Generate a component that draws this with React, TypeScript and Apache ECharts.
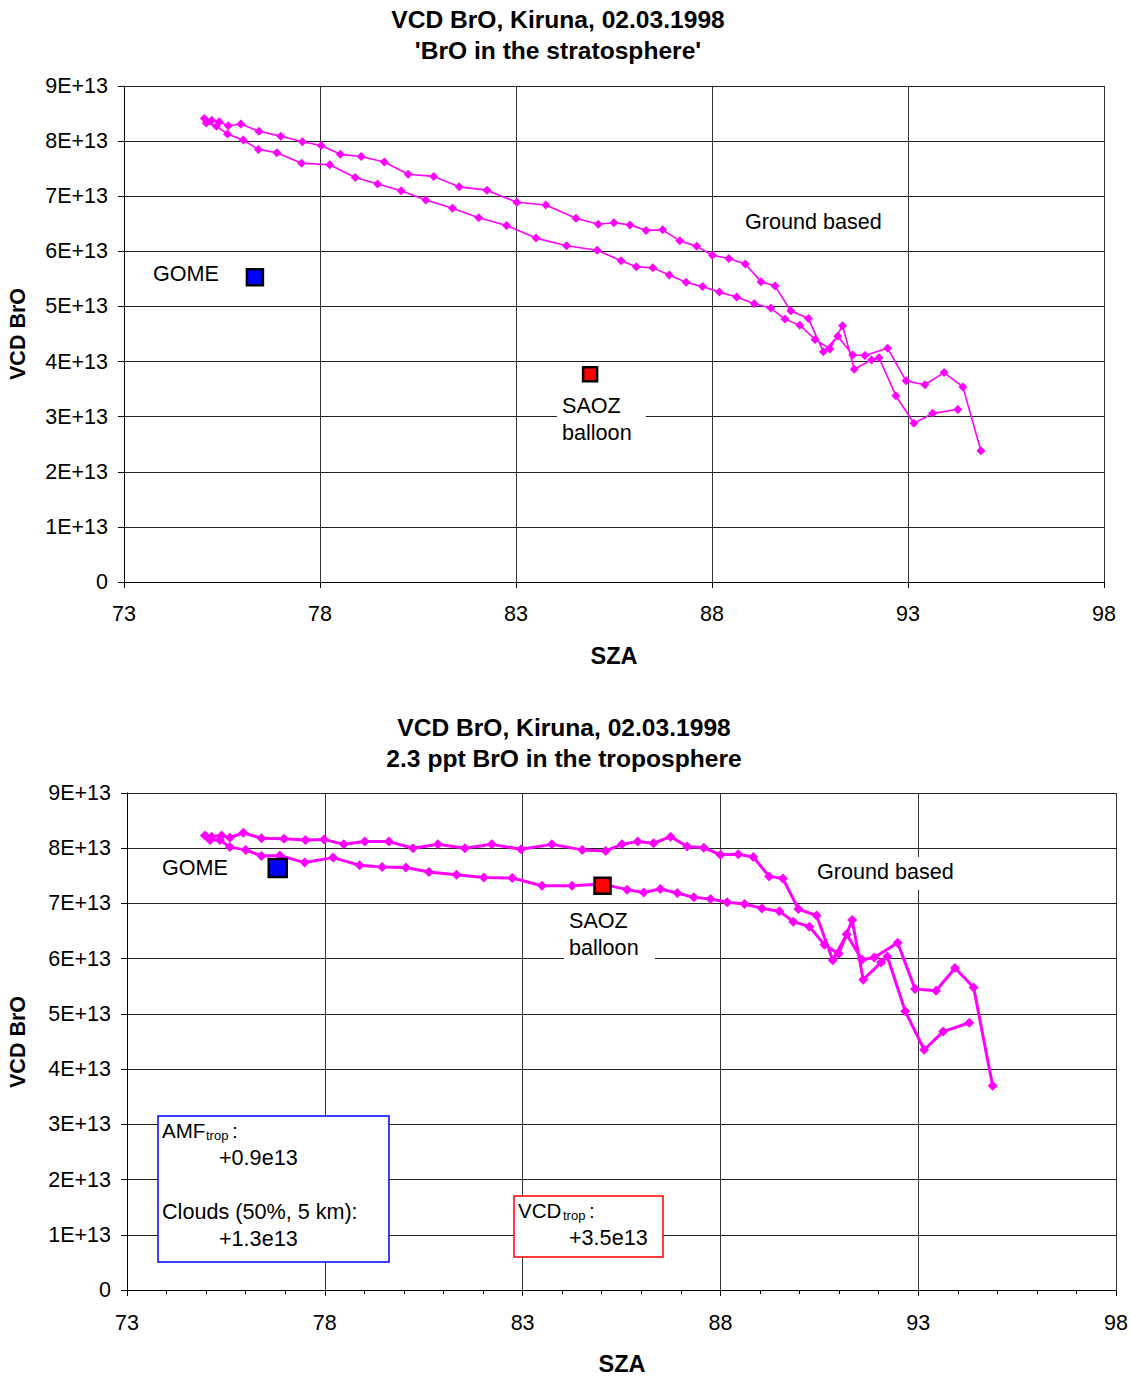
import React, { useEffect, useRef } from "react";
import * as echarts from "echarts";

// ---------- Data (VCD in units of 1E+13) ----------
const xTicks = [73, 78, 83, 88, 93, 98];
const yTicks = [0, 1, 2, 3, 4, 5, 6, 7, 8, 9];

// Top panel: 'BrO in the stratosphere'
const topSzaA = [75.05, 75.24, 75.43, 75.66, 75.98, 76.44, 77.0, 77.55, 78.03, 78.52, 79.05, 79.64, 80.25, 80.9, 81.55, 82.26, 83.02, 83.76, 84.53, 85.1, 85.5, 85.91, 86.32, 86.74, 87.18, 87.61, 88.01, 88.43, 88.85, 89.25, 89.61, 90.01, 90.46, 90.84, 91.21, 91.59, 91.9, 92.48, 92.95, 93.43, 93.92, 94.4, 94.86];
const topVcdA = [8.41, 8.38, 8.35, 8.28, 8.31, 8.18, 8.09, 7.99, 7.92, 7.76, 7.72, 7.62, 7.4, 7.36, 7.17, 7.11, 6.89, 6.84, 6.6, 6.49, 6.52, 6.48, 6.38, 6.39, 6.19, 6.09, 5.93, 5.87, 5.77, 5.45, 5.37, 4.92, 4.78, 4.18, 4.46, 4.12, 4.11, 4.24, 3.65, 3.58, 3.8, 3.54, 2.38];
const topSzaB = [75.1, 75.36, 75.64, 76.04, 76.43, 76.9, 77.53, 78.25, 78.9, 79.47, 80.07, 80.7, 81.38, 82.05, 82.76, 83.51, 84.29, 85.07, 85.68, 86.07, 86.49, 86.91, 87.34, 87.76, 88.19, 88.63, 89.08, 89.5, 89.86, 90.24, 90.63, 91.01, 91.33, 91.63, 92.07, 92.26, 92.69, 93.15, 93.63, 94.27];
const topVcdB = [8.33, 8.27, 8.13, 8.02, 7.85, 7.79, 7.6, 7.57, 7.34, 7.22, 7.1, 6.93, 6.78, 6.61, 6.47, 6.24, 6.1, 6.02, 5.83, 5.72, 5.7, 5.57, 5.44, 5.36, 5.26, 5.17, 5.05, 4.97, 4.77, 4.66, 4.4, 4.23, 4.65, 3.86, 4.03, 4.07, 3.38, 2.88, 3.06, 3.13];

// Bottom panel: '2.3 ppt BrO in the troposphere'
const botSzaA = [74.97, 75.14, 75.39, 75.6, 75.94, 76.4, 76.97, 77.51, 77.98, 78.48, 79.01, 79.62, 80.23, 80.86, 81.54, 82.22, 82.96, 83.74, 84.51, 85.1, 85.51, 85.91, 86.31, 86.74, 87.16, 87.58, 88.0, 88.45, 88.83, 89.23, 89.58, 89.97, 90.43, 90.84, 91.19, 91.58, 91.89, 92.48, 92.92, 93.45, 93.93, 94.4, 94.88];
const botVcdA = [8.23, 8.21, 8.23, 8.19, 8.28, 8.18, 8.17, 8.15, 8.16, 8.07, 8.12, 8.12, 8.0, 8.07, 8.0, 8.07, 7.98, 8.07, 7.97, 7.95, 8.07, 8.12, 8.09, 8.21, 8.03, 8.01, 7.88, 7.89, 7.84, 7.49, 7.45, 6.9, 6.78, 5.97, 6.44, 5.98, 6.02, 6.29, 5.45, 5.42, 5.83, 5.48, 3.7];
const botSzaB = [75.1, 75.35, 75.6, 76.0, 76.4, 76.86, 77.49, 78.21, 78.88, 79.45, 80.05, 80.63, 81.33, 82.02, 82.74, 83.49, 84.25, 85.03, 85.64, 86.06, 86.48, 86.91, 87.33, 87.75, 88.17, 88.61, 89.05, 89.49, 89.84, 90.25, 90.63, 90.99, 91.33, 91.61, 92.06, 92.22, 92.67, 93.15, 93.63, 94.29];
const botVcdB = [8.15, 8.15, 8.02, 7.97, 7.86, 7.87, 7.74, 7.83, 7.69, 7.66, 7.65, 7.57, 7.52, 7.47, 7.46, 7.32, 7.32, 7.35, 7.25, 7.2, 7.26, 7.19, 7.11, 7.08, 7.02, 6.99, 6.91, 6.86, 6.67, 6.58, 6.25, 6.09, 6.7, 5.62, 5.93, 6.04, 5.05, 4.35, 4.68, 4.84];

// Single-point measurements [top, bottom]
const gomeSza = [76.34, 76.81];
const gomeVcd = [5.53, 7.64];
const saozSza = [84.89, 85.02];
const saozVcd = [3.77, 7.32];

// ---------- Helpers ----------
const FONT = '"Liberation Sans", Arial, Helvetica, sans-serif';
const MAGENTA = "#FF00FF";
const LABEL = 21.6;

function loop(szaA: number[], vcdA: number[], szaB: number[], vcdB: number[]) {
  const out: number[][] = [];
  for (let i = szaB.length - 1; i >= 0; i--) out.push([szaB[i], vcdB[i]]);
  for (let i = 0; i < szaA.length; i++) out.push([szaA[i], vcdA[i]]);
  return out;
}

function txt(x: number, y: number, text: string, size = LABEL, weight = "normal", align = "left", extra: any = {}) {
  return {
    type: "text",
    x,
    y,
    z: 20,
    ...extra,
    style: {
      text,
      fill: "#000",
      fontSize: size,
      fontWeight: weight,
      fontFamily: FONT,
      align,
      verticalAlign: "middle",
    },
  };
}

function whiteRect(x: number, y: number, w: number, h: number, stroke = "none", lw = 0) {
  return {
    type: "rect",
    z: 15,
    shape: { x, y, width: w, height: h },
    style: { fill: "#fff", stroke, lineWidth: lw },
  };
}

function xAxis(gridIndex: number, minor: boolean, margin: number) {
  return {
    type: "value",
    gridIndex,
    min: xTicks[0],
    max: xTicks[xTicks.length - 1],
    interval: 5,
    axisLine: { show: true, onZero: false, lineStyle: { color: "#000", width: 1 } },
    axisTick: { show: true, length: 6, lineStyle: { color: "#000" } },
    minorTick: { show: minor, splitNumber: 5, length: 4, lineStyle: { color: "#000" } },
    axisLabel: { fontSize: 21.5, color: "#000", fontFamily: FONT, margin },
    splitLine: { show: true, lineStyle: { color: "#333", width: 1 } },
  };
}

function yAxis(gridIndex: number) {
  return {
    type: "value",
    gridIndex,
    min: yTicks[0],
    max: yTicks[yTicks.length - 1],
    interval: 1,
    axisLine: { show: true, onZero: false, lineStyle: { color: "#000", width: 1 } },
    axisTick: { show: true, length: 6, lineStyle: { color: "#000" } },
    axisLabel: {
      fontSize: 21.5,
      color: "#000",
      fontFamily: FONT,
      margin: 16,
      formatter: (v: number) => (v === 0 ? "0" : `${v}E+13`),
    },
    splitLine: { show: true, lineStyle: { color: "#222", width: 1 } },
  };
}

function lineSeries(idx: number, data: number[][], width: number, size: number) {
  return {
    type: "line",
    xAxisIndex: idx,
    yAxisIndex: idx,
    data,
    symbol: "diamond",
    symbolSize: size,
    showSymbol: true,
    lineStyle: { color: MAGENTA, width },
    itemStyle: { color: MAGENTA },
    z: 5,
  };
}

function squareSeries(idx: number, x: number, y: number, color: string, size: number) {
  return {
    type: "scatter",
    xAxisIndex: idx,
    yAxisIndex: idx,
    data: [[x, y]],
    symbol: "rect",
    symbolSize: size,
    itemStyle: { color, borderColor: "#000", borderWidth: 2.5, opacity: 1 },
    z: 6,
  };
}

const option: any = {
  animation: false,
  backgroundColor: "#fff",
  grid: [
    { left: 124, top: 86, width: 980, height: 496 },
    { left: 127, top: 793, width: 990, height: 497 },
  ],
  xAxis: [xAxis(0, false, 21), xAxis(1, true, 22)],
  yAxis: [yAxis(0), yAxis(1)],
  series: [
    lineSeries(0, loop(topSzaA, topVcdA, topSzaB, topVcdB), 1.6, 9),
    lineSeries(1, loop(botSzaA, botVcdA, botSzaB, botVcdB), 3, 10),
    squareSeries(0, gomeSza[0], gomeVcd[0], "#0000FF", 16),
    squareSeries(0, saozSza[0], saozVcd[0], "#FF0000", 14),
    squareSeries(1, gomeSza[1], gomeVcd[1], "#0000FF", 18),
    squareSeries(1, saozSza[1], saozVcd[1], "#FF0000", 16),
  ],
  graphic: [
    // Titles
    txt(558, 19, "VCD BrO, Kiruna, 02.03.1998", 24.6, "bold", "center"),
    txt(558, 50, "'BrO in the stratosphere'", 24.6, "bold", "center"),
    txt(564, 727, "VCD BrO, Kiruna, 02.03.1998", 24.6, "bold", "center"),
    txt(564, 758, "2.3 ppt BrO in the troposphere", 24.6, "bold", "center"),
    // Axis names
    txt(614, 656, "SZA", 23.5, "bold", "center"),
    txt(622, 1364, "SZA", 23.5, "bold", "center"),
    txt(18, 334, "VCD BrO", 21.5, "bold", "center", { rotation: Math.PI / 2 }),
    txt(18, 1042, "VCD BrO", 21.5, "bold", "center", { rotation: Math.PI / 2 }),
    // Top annotations
    txt(153, 273, "GOME"),
    txt(745, 221, "Ground based"),
    whiteRect(557, 391, 89, 55),
    txt(562, 405, "SAOZ"),
    txt(562, 432, "balloon"),
    // Bottom annotations
    txt(162, 867, "GOME"),
    whiteRect(811, 857, 150, 33),
    txt(817, 871, "Ground based"),
    whiteRect(564, 906, 91, 56),
    txt(569, 920, "SAOZ"),
    txt(569, 947, "balloon"),
    // Blue box
    whiteRect(158, 1116, 231, 146, "#0000FF", 1.5),
    txt(162, 1130, "AMF", 20.5),
    txt(206, 1135, "trop", 13),
    txt(232, 1130, ":", 20.5),
    txt(219, 1157, "+0.9e13"),
    txt(162, 1211, "Clouds (50%, 5 km):"),
    txt(219, 1238, "+1.3e13"),
    // Red box
    whiteRect(514, 1196, 149, 61, "#FF0000", 1.5),
    txt(518, 1210, "VCD", 20.5),
    txt(563, 1215, "trop", 13),
    txt(589, 1210, ":", 20.5),
    txt(569, 1237, "+3.5e13"),
  ],
};

export default function App() {
  const ref = useRef<HTMLDivElement>(null);
  useEffect(() => {
    const chart = echarts.init(ref.current!, null, { renderer: "svg" });
    chart.setOption(option);
    return () => chart.dispose();
  }, []);
  return (
    <div
      ref={ref}
      style={{ position: "absolute", left: 0, top: 0, width: 1131, height: 1376, background: "#fff" }}
    />
  );
}
